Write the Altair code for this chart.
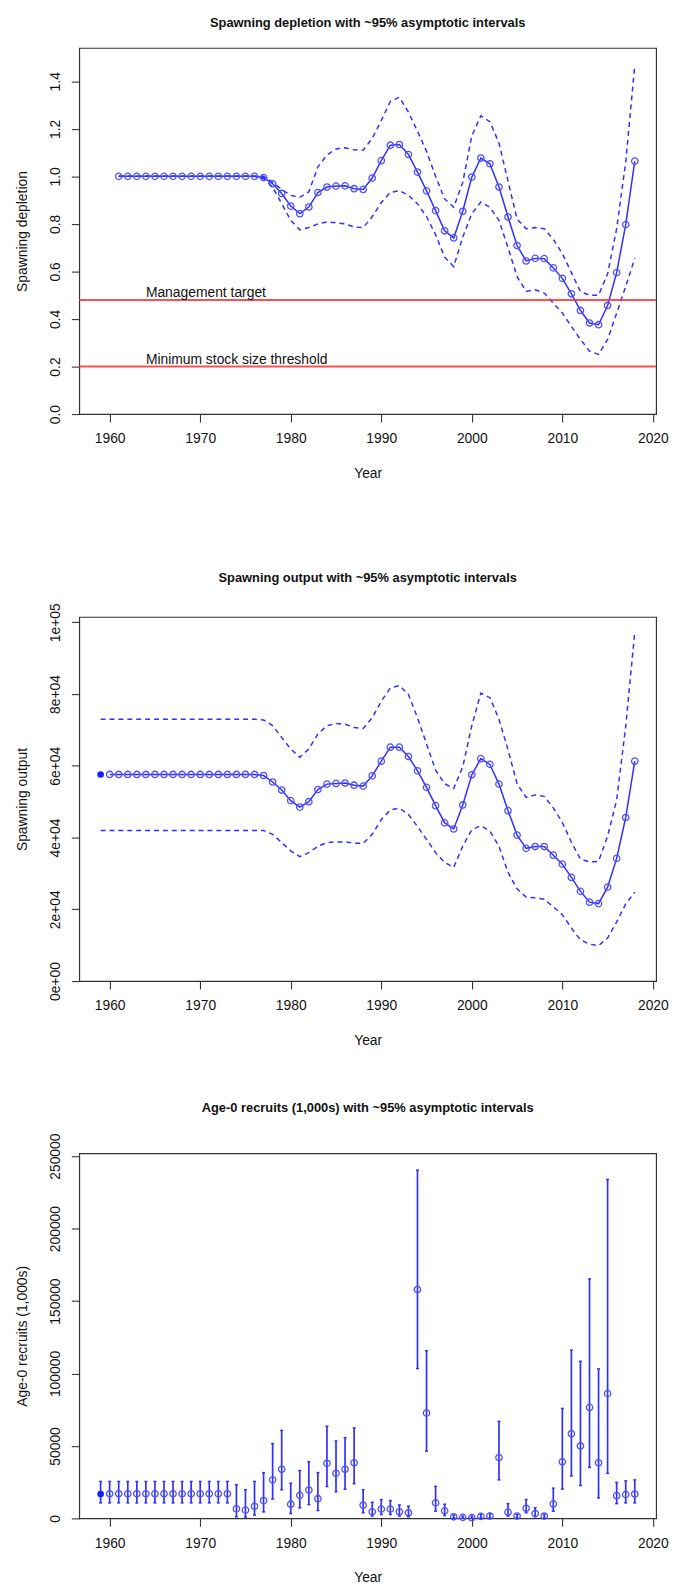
import altair as alt
import pandas as pd

# ---------------- data ----------------
dep_years = list(range(1961, 2019))
dep_est = [1.0, 1.0, 1.0, 1.0, 1.0, 1.0, 1.0, 1.0, 1.0, 1.0, 1.0, 1.0, 1.0, 1.0, 1.0, 1.0,
           0.995, 0.969, 0.928, 0.875, 0.843, 0.871, 0.932, 0.955, 0.959, 0.960, 0.948, 0.945,
           0.993, 1.066, 1.131, 1.134, 1.092, 1.018, 0.939, 0.856, 0.771, 0.741, 0.853, 0.997,
           1.077, 1.053, 0.955, 0.829, 0.709, 0.644, 0.655, 0.654, 0.615, 0.571, 0.506, 0.436,
           0.383, 0.376, 0.457, 0.595, 0.797, 1.064]
dep_hi = [1.0, 1.0, 1.0, 1.0, 1.0, 1.0, 1.0, 1.0, 1.0, 1.0, 1.0, 1.0, 1.0, 1.0, 1.0, 1.0,
          1.0, 0.975, 0.945, 0.92, 0.912, 0.935, 1.04, 1.09, 1.115, 1.12, 1.112, 1.11,
          1.16, 1.235, 1.315, 1.333, 1.27, 1.19, 1.105, 1.0, 0.905, 0.87, 0.975, 1.17,
          1.255, 1.23, 1.14, 0.98, 0.82, 0.78, 0.785, 0.78, 0.735, 0.675, 0.595, 0.515,
          0.5, 0.5, 0.59, 0.78, 1.06, 1.467]
dep_lo = [1.0, 1.0, 1.0, 1.0, 1.0, 1.0, 1.0, 1.0, 1.0, 1.0, 1.0, 1.0, 1.0, 1.0, 1.0, 1.0,
          0.99, 0.955, 0.885, 0.815, 0.775, 0.785, 0.8, 0.808, 0.805, 0.8, 0.787, 0.785,
          0.83, 0.89, 0.932, 0.94, 0.92, 0.885, 0.83, 0.755, 0.66, 0.62, 0.745, 0.843,
          0.892, 0.87, 0.815, 0.7, 0.578, 0.516, 0.523, 0.509, 0.467, 0.425, 0.369, 0.314,
          0.265, 0.251, 0.314, 0.425, 0.537, 0.655]
ref_values = [0.48, 0.2]
ref_labels = ["Management target", "Minimum stock size threshold"]

so_years = list(range(1959, 2019))
so_virgin_year = [1959]
so_virgin = [57600]
so_est = [None, 57600, 57600, 57600, 57600, 57600, 57600, 57600, 57600, 57600, 57600, 57600,
          57600, 57600, 57600, 57600, 57600, 57600,
          57300, 55500, 53250, 50300, 48500, 50000, 53400, 54900, 55100, 55200, 54600, 54350,
          57200, 61300, 65200, 65200, 62600, 58600, 54000, 48900, 44100, 42400, 49100, 57500,
          62000, 60400, 54900, 47500, 40700, 37000, 37500, 37500, 35100, 32600, 28900, 25000,
          22000, 21600, 26200, 34200, 45600, 61300]
so_hi = [73000, 73000, 73000, 73000, 73000, 73000, 73000, 73000, 73000, 73000, 73000, 73000,
         73000, 73000, 73000, 73000, 73000, 73000,
         72800, 71200, 67900, 64700, 62400, 64700, 68900, 71200, 71800, 71600, 70700, 70400,
         73400, 78000, 81700, 82400, 79900, 73400, 66100, 58800, 55000, 53700, 59700, 71200,
         80300, 79000, 73000, 64500, 55000, 51200, 51900, 51500, 48300, 44200, 38700, 34000,
         33200, 33400, 40400, 50500, 71000, 97300]
so_lo = [42000, 42000, 42000, 42000, 42000, 42000, 42000, 42000, 42000, 42000, 42000, 42000,
         42000, 42000, 42000, 42000, 42000, 42000,
         42000, 40900, 38600, 36300, 34700, 35800, 37600, 38600, 38800, 38800, 38400, 38400,
         40900, 45000, 47700, 48200, 46400, 43100, 39500, 35800, 33100, 31700, 37600, 42200,
         43300, 41800, 37600, 30300, 25700, 23400, 23200, 22800, 20700, 18500, 14800, 11500,
         10300, 9900, 12000, 16500, 21500, 24800]

rec_years = list(range(1960, 2019))
rec_virgin_year = [1959]
rec_virgin = [16800]
rec_virgin_hi = [25500]
rec_virgin_lo = [10700]
rec_est = [17000, 17000, 17000, 17000, 17000, 17000, 17000, 17000, 17000, 17000, 17000, 17000,
           17000, 17000,
           6600, 5700, 8400, 12300, 26600, 33900, 9800, 15900, 19600, 13600, 38000, 31100,
           33900, 38400, 9100, 4600, 6400, 6400, 4600, 3900, 158000, 72700, 10700, 5200,
           1100, 700, 500, 1400, 1600, 42000, 4300, 1600, 7000, 3400, 1600, 10000,
           39100, 58400, 50000, 76600, 38400, 86100, 15700, 16400, 16800]
rec_hi = [25500, 25500, 25500, 25500, 25500, 25500, 25500, 25500, 25500, 25500, 25500, 25500,
          25500, 25500,
          23200, 19800, 25500, 31600, 51600, 60700, 24300, 33000, 39100, 31600, 63600, 53400,
          55700, 62500, 19800, 11100, 13000, 12300, 9300, 8400, 240300, 115700, 22100, 9800,
          2300, 1600, 1600, 2700, 3400, 67000, 10200, 2700, 13000, 7300, 2700, 20900,
          75900, 116100, 108400, 165300, 103200, 233900, 24800, 25900, 26600]
rec_lo = [10700, 10700, 10700, 10700, 10700, 10700, 10700, 10700, 10700, 10700, 10700, 10700,
          10700, 10700,
          1100, 900, 2300, 4500, 13400, 19800, 3400, 7300, 9500, 5400, 22000, 18400,
          20200, 23900, 3900, 1600, 2700, 2700, 1600, 1100, 103400, 46400, 5000, 2000,
          200, 100, 100, 300, 300, 26600, 1600, 300, 3900, 1100, 300, 5000,
          20200, 29300, 22700, 35200, 14100, 31100, 10200, 10700, 10700]

x_ticks = [1960, 1970, 1980, 1990, 2000, 2010, 2020]

# ---------------- styling ----------------
FONT = "Liberation Sans"
LINE_BLUE = "#2f2fff"
PT_BLUE = "#4f4fff"
RED = "#ff3030"
W = 583
X_DOMAIN = [1956.64, 2020.36]


def xenc():
    return alt.X("year:Q",
                 scale=alt.Scale(domain=X_DOMAIN, nice=False, zero=False),
                 axis=alt.Axis(values=x_ticks, format="d", title="Year",
                               labelFlush=False, labelOverlap=False))


def yaxis(title, values, fmt=None, expr=None):
    kw = dict(values=values, title=title, labelAngle=270, labelAlign="center",
              labelBaseline="bottom", labelFlush=False, labelOverlap=False)
    if fmt:
        kw["format"] = fmt
    if expr:
        kw["labelExpr"] = expr
    return alt.Axis(**kw)


def ptitle(text):
    return alt.Title(text, fontSize=13, fontWeight="bold", font=FONT,
                     anchor="middle", offset=18, color="#111")


# ---------------- panel 1 ----------------
dep_df = pd.DataFrame({"year": dep_years, "est": dep_est, "hi": dep_hi, "lo": dep_lo})
ref_df = pd.DataFrame({"y": ref_values, "label": ref_labels})
ys1 = alt.Scale(domain=[0, 1.54], nice=False, zero=False)
y1ax = yaxis("Spawning depletion", [0, 0.2, 0.4, 0.6, 0.8, 1.0, 1.2, 1.4], fmt=".1f")

b1 = alt.Chart(dep_df)
p1 = alt.layer(
    b1.mark_line(color=LINE_BLUE, strokeWidth=1.5, strokeDash=[5, 4]).encode(
        x=xenc(), y=alt.Y("hi:Q", scale=ys1, axis=y1ax)),
    b1.mark_line(color=LINE_BLUE, strokeWidth=1.5, strokeDash=[5, 4]).encode(
        x=xenc(), y=alt.Y("lo:Q", scale=ys1)),
    b1.mark_line(color=LINE_BLUE, strokeWidth=1.5).encode(
        x=xenc(), y=alt.Y("est:Q", scale=ys1)),
    b1.mark_point(shape="circle", filled=False, color=PT_BLUE, size=42,
                  strokeWidth=1.3, opacity=1).encode(
        x=xenc(), y=alt.Y("est:Q", scale=ys1)),
    alt.Chart(ref_df).mark_rule(color=RED, strokeWidth=2, opacity=0.85).encode(
        y=alt.Y("y:Q", scale=ys1)),
    alt.Chart(ref_df).mark_text(align="left", baseline="alphabetic", dy=-3,
                                fontSize=14, font=FONT, color="#111").encode(
        x=alt.datum(1964), y=alt.Y("y:Q", scale=ys1), text="label:N"),
).properties(width=W, height=370,
             title=ptitle("Spawning depletion with ~95% asymptotic intervals"))

# ---------------- panel 2 ----------------
so_df = pd.DataFrame({"year": so_years, "est": so_est, "hi": so_hi, "lo": so_lo})
so_line_df = so_df.dropna()
so_v_df = pd.DataFrame({"year": so_virgin_year, "est": so_virgin})
ys2 = alt.Scale(domain=[0, 101500], nice=False, zero=False)
y2ax = yaxis("Spawning output", [0, 20000, 40000, 60000, 80000, 100000],
             expr="datum.value == 0 ? '0e+00' : (datum.value == 100000 ? '1e+05' : "
                  "format(datum.value / 10000, 'd') + 'e+04')")

b2 = alt.Chart(so_df)
b2l = alt.Chart(so_line_df)
p2 = alt.layer(
    b2.mark_line(color=LINE_BLUE, strokeWidth=1.5, strokeDash=[5, 4]).encode(
        x=xenc(), y=alt.Y("hi:Q", scale=ys2, axis=y2ax)),
    b2.mark_line(color=LINE_BLUE, strokeWidth=1.5, strokeDash=[5, 4]).encode(
        x=xenc(), y=alt.Y("lo:Q", scale=ys2)),
    b2l.mark_line(color=LINE_BLUE, strokeWidth=1.5).encode(
        x=xenc(), y=alt.Y("est:Q", scale=ys2)),
    b2l.mark_point(shape="circle", filled=False, color=PT_BLUE, size=42,
                   strokeWidth=1.3, opacity=1).encode(
        x=xenc(), y=alt.Y("est:Q", scale=ys2)),
    alt.Chart(so_v_df).mark_point(shape="circle", filled=True, color="#1a1aff",
                                  size=45, opacity=1).encode(
        x=xenc(), y=alt.Y("est:Q", scale=ys2)),
).properties(width=W, height=368,
             title=ptitle("Spawning output with ~95% asymptotic intervals"))

# ---------------- panel 3 ----------------
rec_df = pd.DataFrame({"year": rec_years, "est": rec_est, "hi": rec_hi, "lo": rec_lo})
rec_v_df = pd.DataFrame({"year": rec_virgin_year, "est": rec_virgin,
                         "hi": rec_virgin_hi, "lo": rec_virgin_lo})
bars_df = pd.concat([rec_v_df, rec_df], ignore_index=True)
ys3 = alt.Scale(domain=[0, 252000], nice=False, zero=False)
y3ax = yaxis("Age-0 recruits (1,000s)", [0, 50000, 100000, 150000, 200000, 250000], fmt="d")

b3 = alt.Chart(bars_df)
p3 = alt.layer(
    b3.mark_rule(color=LINE_BLUE, strokeWidth=1.7).encode(
        x=xenc(), y=alt.Y("lo:Q", scale=ys3, axis=y3ax), y2="hi:Q"),
    b3.mark_rule(color=LINE_BLUE, strokeWidth=1.5, xOffset=-1.5, x2Offset=1.5).encode(
        x=xenc(), x2="year:Q", y=alt.Y("hi:Q", scale=ys3)),
    b3.mark_rule(color=LINE_BLUE, strokeWidth=1.5, xOffset=-1.5, x2Offset=1.5).encode(
        x=xenc(), x2="year:Q", y=alt.Y("lo:Q", scale=ys3)),
    alt.Chart(rec_df).mark_point(shape="circle", filled=False, color=PT_BLUE, size=42,
                                 strokeWidth=1.3, opacity=1).encode(
        x=xenc(), y=alt.Y("est:Q", scale=ys3)),
    alt.Chart(rec_v_df).mark_point(shape="circle", filled=True, color="#1a1aff",
                                   size=45, opacity=1).encode(
        x=xenc(), y=alt.Y("est:Q", scale=ys3)),
).properties(width=W, height=369,
             title=ptitle("Age-0 recruits (1,000s) with ~95% asymptotic intervals"))

chart = alt.vconcat(p1, alt.vconcat(p2, p3, spacing=53), spacing=91).properties(
    padding={"left": 7, "top": 0, "right": 0, "bottom": 0}
).configure_view(
    stroke="#333", strokeWidth=1.2
).configure_axis(
    grid=False, domain=False, tickSize=8, tickColor="#333", tickWidth=1.1,
    labelFont=FONT, labelFontSize=14, labelColor="#111", labelPadding=10,
    titleFont=FONT, titleFontSize=14, titleFontWeight="normal", titleColor="#111",
).configure_axisX(titlePadding=21).configure_axisY(labelPadding=9, titlePadding=19)

chart.save("out.html", embed_options={"renderer": "svg", "actions": False})
